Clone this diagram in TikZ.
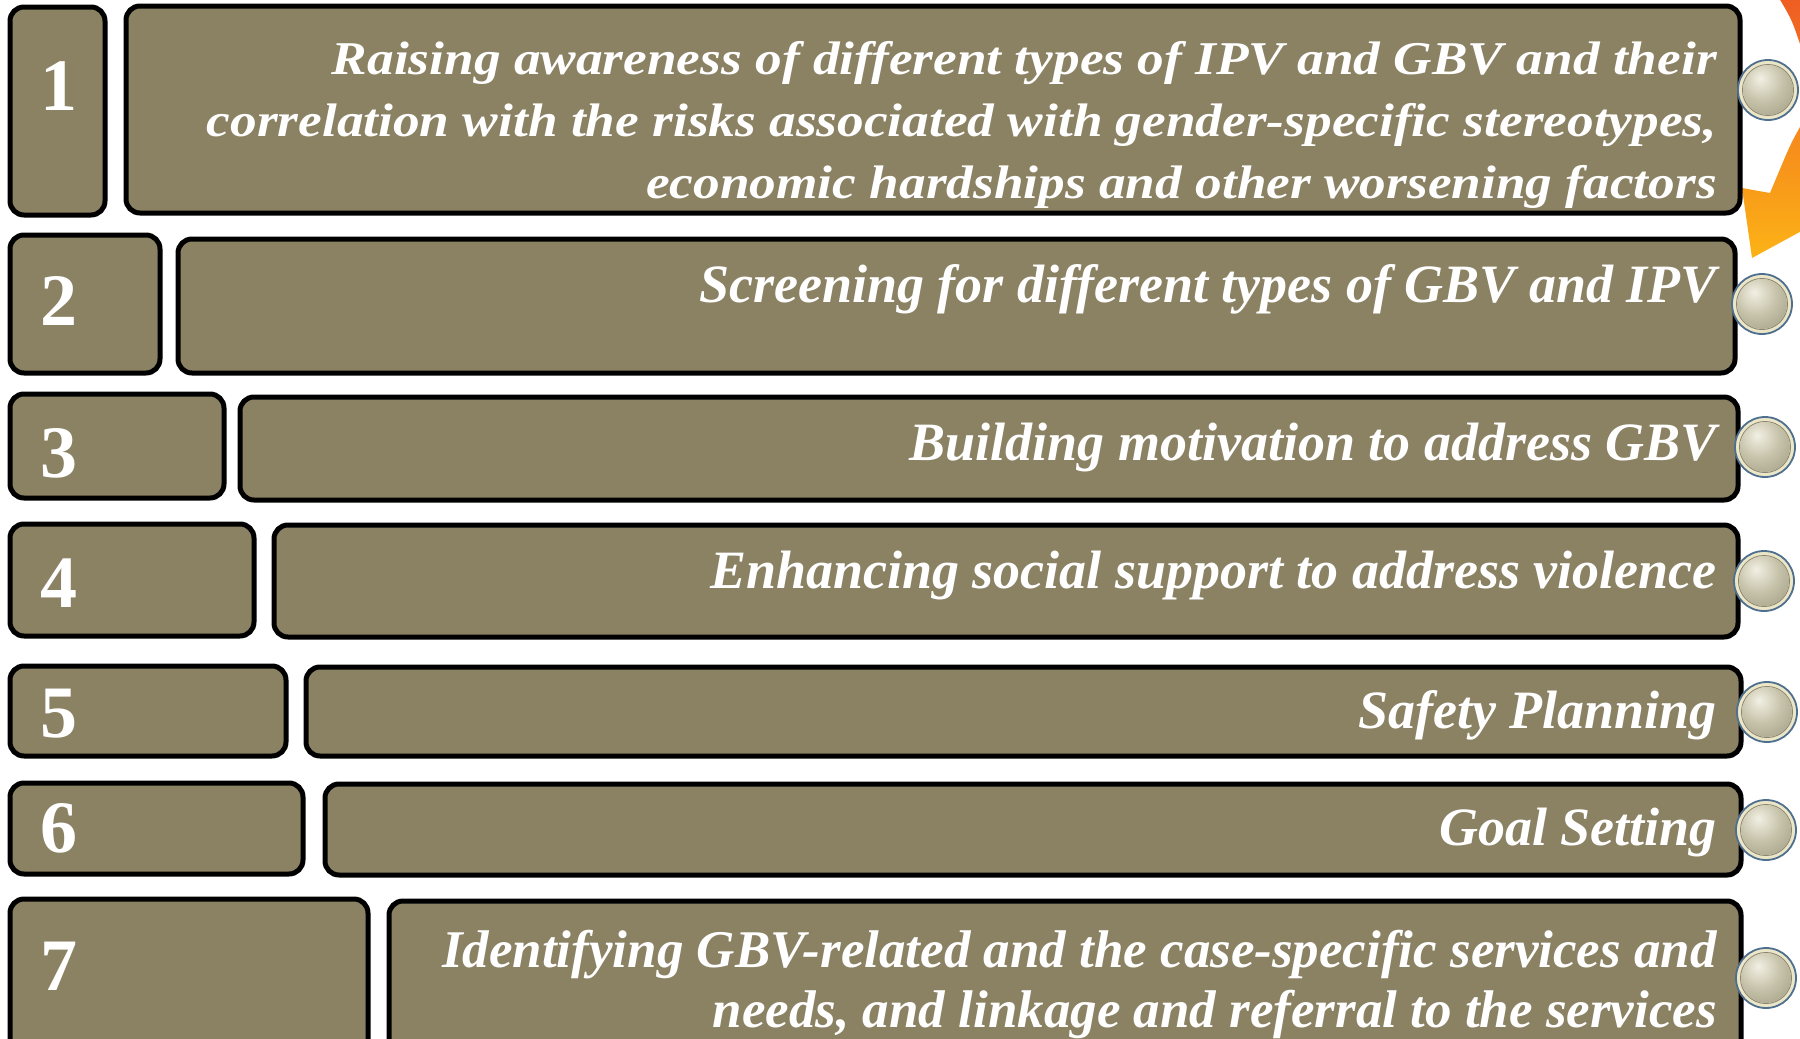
\documentclass[tikz,border=0pt]{standalone}
\usepackage{fontspec}
\setmainfont{Liberation Serif}
\definecolor{boxfill}{HTML}{8B8163}
\definecolor{arrtop}{HTML}{EE5A24}
\definecolor{arrmid}{HTML}{F7931E}
\definecolor{arrbot}{HTML}{FCB316}
\definecolor{ringblue}{HTML}{4F6F8F}
\definecolor{ringcream}{HTML}{ECE6C8}
\definecolor{ringdark}{HTML}{8C8770}
\definecolor{ballhi}{HTML}{F2F0E4}
\definecolor{ballmid}{HTML}{C8C4AC}
\definecolor{balllo}{HTML}{928E76}
\pgfdeclareradialshading{btnball}{\pgfpoint{-8bp}{12bp}}{color(0bp)=(ballhi); color(20bp)=(ballmid); color(52bp)=(balllo); color(100bp)=(balllo)}
\tikzset{
  pbox/.style={draw=black, line width=5pt, fill=boxfill, rounded corners=14pt},
  numlbl/.style={text=white, font=\fontsize{74}{74}\selectfont\bfseries, anchor=base west, inner sep=0pt},
  txtlbl/.style={text=white, font=\fontsize{54}{62}\selectfont\bfseries\itshape, anchor=base east, inner sep=0pt},
  txtsmall/.style={txtlbl, font=\fontsize{47}{56}\selectfont\bfseries\itshape},
  txtmid/.style={txtlbl, font=\fontsize{53}{60}\selectfont\bfseries\itshape},
}
\newcommand{\wide}[1]{\scalebox{1.134}[1]{#1}}
\newcommand{\knob}[2]{%
  \fill[ringcream, draw=ringblue, line width=1.8pt] (#1,#2) circle (30);
  \draw[ringdark, line width=1pt] (#1,#2) circle (25.5);
  \shade[shading=btnball] (#1,#2) circle (25);
}
\begin{document}
\begin{tikzpicture}[x=1pt,y=-1pt]
\useasboundingbox (0,0) rectangle (1800,1039);
\clip (0,0) rectangle (1800,1039);
% orange curved arrow (partly outside frame)
\shade[top color=arrtop, middle color=arrmid, bottom color=arrbot]
  (1775,-10) -- (1779,-2) .. controls (1792,20) .. (1802,50)
  .. controls (1814,85) and (1812,110) .. (1800,127)
  .. controls (1790,145) .. (1770,193)
  -- (1742,188) -- (1752,258) -- (1840,210) -- (1840,-10) -- cycle;
% row boxes
\draw[pbox] (10,7) rectangle (105,215);
\draw[pbox] (126,6) rectangle (1740,213);
\draw[pbox] (10,235) rectangle (160,373);
\draw[pbox] (178,239) rectangle (1735,373);
\draw[pbox] (10,394) rectangle (224,498);
\draw[pbox] (240,397) rectangle (1738,500);
\draw[pbox] (10,524) rectangle (254,636);
\draw[pbox] (274,525) rectangle (1738,637);
\draw[pbox] (10,666) rectangle (286,756);
\draw[pbox] (306,667) rectangle (1741,756);
\draw[pbox] (10,783) rectangle (303,874);
\draw[pbox] (325,784) rectangle (1741,875);
\draw[pbox] (10,899) rectangle (368,1062);
\draw[pbox] (389,901) rectangle (1741,1062);
% numbers
\node[numlbl] (n1) at (40,110) {1};
\node[numlbl] (n2) at (40,325) {2};
\node[numlbl] (n3) at (40,477) {3};
\node[numlbl] (n4) at (40,607) {4};
\node[numlbl] (n5) at (40,737) {5};
\node[numlbl] (n6) at (40,852) {6};
\node[numlbl] (n7) at (40,990) {7};
% texts
\node[txtsmall] (t1a) at (1717,74) {\wide{Raising awareness of different types of IPV and GBV and their}};
\node[txtsmall] (t1b) at (1717,136) {\wide{correlation with the risks associated with gender-specific stereotypes,}};
\node[txtsmall] (t1c) at (1717,198) {\wide{economic hardships and other worsening factors}};
\node[txtlbl] (t2) at (1717,302) {Screening for different types of GBV and IPV};
\node[txtlbl] (t3) at (1717,460) {Building motivation to address GBV};
\node[txtlbl] (t4) at (1717,588) {Enhancing social support to address violence};
\node[txtlbl] (t5) at (1717,728) {Safety Planning};
\node[txtlbl] (t6) at (1717,845) {Goal Setting};
\node[txtmid] (t7a) at (1717,967) {Identifying GBV-related and the case-specific services and};
\node[txtmid] (t7b) at (1717,1027) {needs, and linkage and referral to the services};
% knobs
\knob{1768}{90}
\knob{1762}{304}
\knob{1765}{447}
\knob{1764}{581}
\knob{1767}{712}
\knob{1766}{830}
\knob{1766}{978}
\end{tikzpicture}
\end{document}
